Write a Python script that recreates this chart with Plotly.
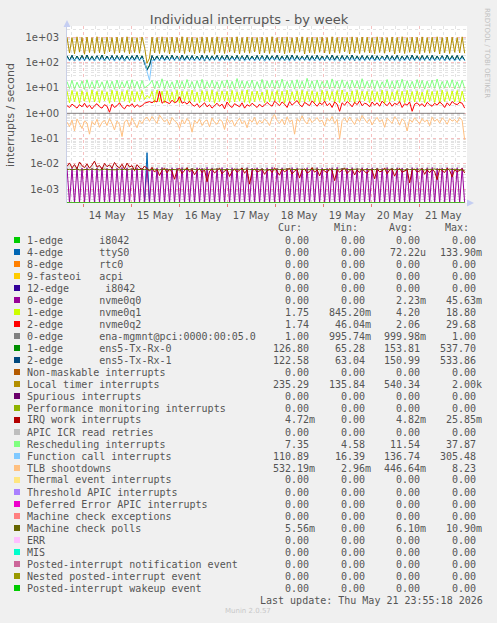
import numpy as np
import pandas as pd
import plotly.graph_objects as go

# ---------------- data ----------------
N = 160
START = "2026-05-13 16:00"
STEP = "75min"

local_timer = [
    1010, 240, 980, 225, 1040, 260, 995, 215, 1020, 250, 970, 235, 1050, 245, 1000, 220, 1030, 265, 985, 230,
    1015, 240, 990, 255, 1045, 225, 1005, 250, 975, 235, 1030, 420, 95, 150, 1010, 245, 990, 230, 1040, 255,
    1000, 220, 1025, 250, 980, 240, 1050, 230, 995, 260, 1015, 225, 970, 245, 1035, 235, 1005, 255, 990, 215,
    1040, 245, 985, 230, 1020, 260, 1000, 240, 1045, 225, 975, 250, 1030, 235, 1010, 265, 990, 220, 1025, 245,
    995, 230, 1050, 255, 980, 240, 1015, 225, 1035, 250, 970, 235, 1005, 260, 1040, 220, 985, 245, 1020, 230,
    1000, 255, 1030, 240, 975, 225, 1045, 250, 990, 235, 1015, 265, 1000, 220, 1035, 245, 980, 230, 1025, 255,
    1010, 240, 990, 225, 1040, 250, 1005, 235, 970, 260, 1030, 220, 995, 245, 1050, 230, 985, 255, 1020, 240,
    1000, 225, 1035, 250, 980, 235, 1015, 260, 1045, 220, 990, 245, 1025, 230, 1005, 255, 975, 240, 1040, 235,
]

ens5_rx0 = [
    188, 123, 192, 118, 183, 122, 193, 121, 197, 119, 181, 119, 185, 121, 199, 116, 180, 124, 189, 120,
    189, 120, 191, 118, 184, 123, 186, 123, 194, 121, 187, 95, 55, 80, 187, 124, 185, 120, 192, 121,
    184, 122, 196, 119, 183, 119, 195, 122, 188, 123, 188, 121, 182, 120, 193, 118, 191, 118, 186, 123,
    191, 120, 189, 121, 196, 122, 185, 119, 193, 119, 188, 122, 194, 123, 184, 121, 190, 120, 190, 118,
    189, 124, 187, 123, 193, 121, 186, 117, 193, 121, 195, 120, 189, 119, 183, 122, 191, 122, 185, 119,
    192, 120, 184, 121, 186, 124, 194, 123, 187, 118, 189, 123, 189, 121, 196, 120, 185, 119, 188, 122,
    188, 122, 190, 119, 185, 123, 184, 120, 193, 121, 184, 124, 191, 118, 186, 123, 187, 122, 195, 119,
    187, 120, 189, 121, 189, 117, 192, 121, 185, 122, 186, 119, 194, 124, 188, 120, 190, 122, 185, 123,
]

ens5_rx1 = [
    185, 120, 195, 115, 180, 125, 190, 118, 200, 122, 178, 116, 188, 124, 196, 119, 183, 121, 192, 117,
    186, 123, 194, 115, 181, 120, 189, 126, 197, 118, 184, 90, 50, 75, 190, 121, 182, 117, 195, 124,
    187, 119, 193, 122, 180, 116, 198, 125, 185, 120, 191, 118, 179, 123, 196, 115, 188, 121, 183, 126,
    194, 117, 186, 124, 199, 119, 182, 122, 190, 116, 185, 125, 197, 120, 181, 118, 193, 123, 187, 115,
    192, 121, 184, 126, 196, 118, 183, 120, 190, 124, 198, 117, 186, 122, 180, 125, 194, 119, 188, 116,
    195, 123, 181, 118, 189, 121, 197, 126, 184, 115, 192, 120, 186, 124, 199, 117, 182, 122, 191, 119,
    185, 125, 193, 116, 188, 120, 181, 123, 196, 118, 187, 121, 194, 115, 183, 126, 190, 119, 198, 122,
    184, 117, 192, 124, 186, 120, 195, 118, 182, 125, 189, 116, 197, 121, 185, 123, 193, 119, 188, 120,
]

function_call = [
    150, 118, 145, 122, 155, 115, 148, 125, 152, 120, 143, 117, 158, 123, 147, 119, 151, 126, 144, 116,
    156, 121, 149, 118, 153, 124, 146, 115, 157, 122, 150, 120, 45, 20, 125, 119, 148, 123, 154, 117,
    145, 125, 152, 118, 158, 121, 147, 116, 151, 124, 144, 120, 155, 117, 149, 126, 153, 119, 146, 122,
    157, 115, 150, 123, 143, 118, 154, 121, 148, 125, 156, 116, 145, 122, 152, 119, 147, 124, 158, 117,
    149, 120, 155, 126, 146, 118, 151, 123, 144, 115, 157, 121, 150, 119, 153, 124, 145, 117, 148, 122,
    154, 118, 147, 125, 156, 120, 143, 116, 152, 123, 149, 119, 158, 121, 146, 126, 151, 115, 155, 120,
    148, 124, 153, 117, 145, 122, 157, 119, 150, 125, 144, 118, 154, 121, 147, 116, 156, 123, 149, 120,
    152, 119, 146, 124, 155, 117, 150, 122, 143, 126, 157, 118, 148, 121, 153, 115, 145, 123, 151, 119,
]

rescheduling = [
    18, 9.5, 20, 9.0, 17, 10, 19, 8.8, 21, 9.6, 18, 9.2, 20, 10.2, 17.5, 9.0, 19.5, 9.8, 18.5, 8.9,
    20.5, 9.4, 17.8, 10.1, 19.2, 9.1, 21, 9.7, 18.2, 9.3, 19.8, 10, 12, 14, 20, 9.5, 18.7, 9.9, 23, 9.2,
    19, 10.3, 17.6, 9.0, 20.3, 9.6, 18.4, 9.4, 21.5, 10.1, 17.9, 9.2, 19.6, 9.8, 22, 9.1, 18.1, 10.2, 20.1, 9.5,
    17.7, 9.3, 19.4, 10.0, 20.8, 9.7, 18.3, 9.0, 23.5, 9.9, 19.1, 9.4, 18.6, 10.4, 20.6, 9.2, 17.9, 9.6, 21.8, 9.1,
    18.8, 10.1, 20.2, 9.3, 19.3, 9.8, 22.4, 9.5, 18.0, 10.2, 19.9, 9.0, 21.2, 9.7, 18.5, 9.4, 24, 10.0, 19.0, 9.2,
    20.7, 9.6, 18.2, 10.3, 19.7, 9.1, 22.8, 9.8, 18.9, 9.4, 21.0, 10.1, 17.8, 9.3, 20.4, 9.9, 19.2, 9.0, 23.2, 9.6,
    18.4, 10.0, 20.9, 9.2, 19.5, 9.7, 17.6, 10.4, 21.6, 9.5, 18.7, 9.1, 20.0, 9.8, 22.2, 9.3, 19.1, 10.2, 18.3, 9.4,
    21.4, 9.9, 19.8, 9.0, 18.6, 10.1, 20.5, 9.6, 22.6, 9.3, 18.1, 9.8, 19.4, 10.3, 21.1, 9.2, 17.7, 9.7, 20.3, 9.5,
]

nvme0q1 = [
    7.5, 2.6, 8.0, 2.9, 7.2, 2.5, 7.8, 3.0, 7.0, 2.7, 8.2, 2.8, 7.4, 2.6, 7.9, 3.1, 7.1, 2.5, 8.1, 2.9,
    7.6, 2.7, 7.3, 3.0, 8.0, 2.6, 7.7, 2.8, 7.2, 3.2, 7.9, 3.5, 5.0, 4.0, 7.4, 2.7, 8.3, 2.9, 7.5, 2.6,
    7.8, 3.0, 7.1, 2.8, 8.0, 2.5, 7.6, 3.1, 7.3, 2.7, 8.2, 2.9, 7.0, 2.6, 7.9, 3.0, 7.4, 2.8, 8.1, 2.5,
    7.2, 2.9, 7.7, 3.1, 7.5, 2.6, 8.0, 2.8, 7.1, 3.0, 7.8, 2.7, 8.3, 2.5, 7.4, 2.9, 7.6, 3.2, 7.0, 2.6,
    8.1, 2.8, 7.3, 3.0, 7.9, 2.7, 7.5, 2.5, 8.2, 2.9, 7.2, 3.1, 7.7, 2.6, 8.0, 2.8, 7.4, 3.0, 7.8, 2.7,
    7.1, 2.5, 8.1, 2.9, 7.6, 3.2, 7.3, 2.7, 7.9, 2.6, 8.3, 3.0, 7.0, 2.8, 7.7, 2.5, 8.0, 2.9, 7.5, 3.1,
    7.4, 2.6, 7.8, 3.0, 7.2, 2.8, 8.2, 2.5, 7.6, 2.9, 7.1, 3.1, 7.9, 2.7, 7.5, 2.6, 8.1, 3.0, 7.3, 2.8,
    7.7, 2.9, 7.0, 2.6, 8.0, 3.0, 7.4, 2.7, 7.8, 2.5, 8.2, 2.9, 7.2, 3.1, 7.6, 2.8, 7.9, 2.6, 7.5, 3.0,
]

nvme0q2 = [
    2.0, 1.7, 2.3, 1.9, 1.6, 2.2, 1.8, 2.5, 1.7, 2.1, 1.5, 2.0, 2.4, 1.8, 1.6, 2.2, 1.9, 1.1, 2.3, 1.7,
    2.0, 2.6, 1.8, 1.5, 2.1, 1.9, 2.4, 1.7, 2.2, 1.8, 2.0, 2.5, 2.7, 2.9, 2.6, 3.1, 2.8, 7.5, 2.5, 3.0,
    2.7, 2.4, 3.3, 2.6, 2.9, 4.5, 2.5, 2.8, 2.3, 3.0, 2.2, 1.9, 2.4, 1.7, 2.1, 2.6, 1.8, 2.2, 1.6, 2.0,
    2.5, 1.9, 2.3, 1.5, 2.8, 2.0, 1.7, 2.4, 2.1, 1.8, 2.6, 1.6, 2.2, 1.9, 2.5, 2.0, 1.7, 2.3, 1.8, 2.1,
    2.7, 2.2, 1.9, 3.0, 2.4, 2.0, 2.8, 2.3, 1.7, 2.9, 2.1, 2.6, 3.2, 2.2, 1.8, 2.7, 2.4, 2.0, 3.1, 2.5,
    1.9, 2.6, 2.2, 3.0, 2.0, 2.5, 1.7, 2.8, 2.3, 1.2, 2.6, 2.1, 2.9, 2.4, 1.8, 2.7, 2.2, 3.1, 2.0, 2.5,
    2.3, 1.8, 2.8, 2.1, 2.6, 1.9, 3.0, 2.4, 2.0, 2.7, 1.9, 2.5, 2.2, 2.9, 1.7, 2.4, 2.1, 2.8, 1.2, 2.3,
    2.6, 2.0, 2.4, 1.8, 2.7, 2.2, 1.9, 2.5, 2.1, 2.8, 2.3, 1.7, 2.6, 2.0, 2.9, 2.4, 2.2, 2.7, 2.5, 1.6,
]

tlb_shootdowns = [
    0.45, 0.30, 0.55, 0.20, 0.60, 0.38, 0.25, 0.50, 0.42, 0.15, 0.48, 0.35, 0.58, 0.28, 0.44, 0.52, 0.33, 0.62, 0.40, 0.22,
    0.50, 0.36, 0.12, 0.46, 0.55, 0.30, 0.65, 0.41, 0.27, 0.53, 0.39, 0.60, 0.70, 0.48, 0.75, 0.55, 0.40, 0.85, 0.62, 0.45,
    0.58, 0.35, 0.68, 0.50, 0.42, 0.25, 0.56, 0.38, 0.63, 0.46, 0.18, 0.52, 0.40, 0.60, 0.33, 0.48, 0.55, 0.29, 0.66, 0.44,
    0.37, 0.57, 0.49, 0.23, 0.61, 0.43, 0.54, 0.31, 0.47, 0.64, 0.39, 0.51, 0.27, 0.58, 0.45, 0.70, 0.36, 0.53, 0.41, 0.60,
    0.48, 0.33, 0.66, 0.90, 0.52, 0.40, 0.59, 0.35, 0.72, 0.44, 0.55, 0.15, 0.62, 0.47, 0.80, 0.50, 0.38, 0.65, 0.43, 0.57,
    0.68, 0.46, 0.54, 0.31, 0.63, 0.49, 0.75, 0.40, 0.58, 0.10, 0.52, 0.66, 0.44, 0.71, 0.50, 0.36, 0.62, 0.47, 0.82, 0.55,
    0.42, 0.60, 0.35, 0.53, 0.69, 0.45, 0.57, 0.28, 0.64, 0.50, 0.40, 0.73, 0.56, 0.34, 0.61, 0.47, 0.20, 0.58, 0.44, 0.67,
    0.51, 0.38, 0.63, 0.46, 0.55, 0.32, 0.70, 0.48, 0.59, 0.41, 0.66, 0.53, 0.37, 0.62, 0.49, 0.57, 0.43, 0.68, 0.52, 0.09,
]

# milli-interrupts per second
irq_work_m = [
    8.0, 11, 7.0, 9.5, 6.5, 12, 8.5, 7.2, 10, 6.8, 9.0, 13, 7.5, 8.8, 6.2, 10.5, 7.8, 9.2, 6.9, 11.5,
    8.2, 7.0, 9.8, 6.4, 10.8, 7.6, 8.6, 5.5, 9.4, 7.1, 6.0, 8.3, 6.6, 5.2, 7.4, 4.8, 6.1, 3.5, 5.6, 6.8,
    4.5, 6.2, 5.0, 2.5, 5.8, 6.9, 4.2, 5.5, 7.2, 4.9, 6.0, 3.8, 5.4, 6.6, 4.6, 5.9, 2.0, 5.2, 6.3, 4.4,
    5.7, 6.8, 4.1, 5.3, 6.1, 3.2, 5.0, 6.4, 4.7, 5.6, 7.0, 4.3, 5.9, 1.6, 5.1, 6.5, 4.8, 5.4, 6.2, 3.9,
    5.5, 6.0, 4.6, 7.1, 5.2, 3.6, 6.3, 4.9, 5.8, 6.7, 4.0, 5.3, 6.1, 2.8, 5.6, 6.4, 4.4, 5.0, 7.3, 4.7,
    5.9, 3.4, 6.2, 5.1, 4.5, 6.6, 5.4, 2.2, 6.0, 4.8, 5.7, 6.9, 4.2, 5.5, 6.3, 3.7, 5.8, 4.6, 6.5, 5.0,
    4.3, 6.1, 5.6, 2.6, 6.4, 4.9, 5.3, 7.0, 4.1, 5.8, 6.2, 3.3, 5.5, 6.7, 4.7, 5.2, 6.0, 1.8, 5.7, 6.3,
    4.8, 5.4, 6.6, 3.9, 5.9, 4.5, 6.1, 5.0, 2.4, 6.4, 5.2, 4.6, 6.8, 5.6, 3.1, 6.0, 4.9, 5.7, 6.5, 4.4,
]

mc_polls_m = [
    6.0, 6.2, 5.9, 6.1, 6.3, 5.8, 6.0, 6.2, 6.1, 5.9, 6.4, 6.0, 6.2, 5.8, 6.1, 6.3, 6.0, 5.9, 6.2, 6.1,
    5.9, 6.3, 6.0, 6.2, 5.8, 6.1, 6.4, 6.0, 5.9, 6.2, 6.1, 6.0, 6.3, 5.9, 6.1, 6.2, 6.0, 5.8, 6.3, 6.1,
    6.2, 5.9, 6.1, 6.0, 6.3, 5.8, 6.2, 6.1, 5.9, 6.0, 6.4, 6.1, 5.8, 6.2, 6.0, 6.3, 5.9, 6.1, 6.2, 6.0,
    6.1, 6.3, 5.9, 6.0, 6.2, 6.1, 5.8, 6.3, 6.0, 6.2, 5.9, 6.1, 6.4, 6.0, 5.9, 6.2, 6.1, 6.0, 6.3, 5.8,
    6.0, 6.2, 6.1, 5.9, 6.3, 6.0, 6.1, 5.8, 6.2, 6.4, 6.0, 5.9, 6.1, 6.3, 6.0, 6.2, 5.8, 6.1, 6.0, 6.2,
    6.3, 5.9, 6.0, 6.2, 6.1, 5.8, 6.3, 6.0, 6.1, 5.9, 6.2, 6.4, 6.0, 6.1, 5.9, 6.2, 6.0, 6.3, 5.8, 6.1,
    6.1, 6.0, 6.2, 5.9, 6.3, 6.1, 5.8, 6.2, 6.0, 6.1, 6.4, 5.9, 6.2, 6.0, 6.1, 5.8, 6.3, 6.0, 6.2, 5.9,
    6.0, 6.3, 6.1, 5.8, 6.2, 6.0, 6.1, 6.4, 5.9, 6.2, 6.0, 6.1, 5.9, 6.3, 6.0, 6.2, 6.1, 5.8, 6.0, 5.6,
]

nvme0q0_m = [
    7.0, 0, 6.8, 0, 7.2, 0, 6.9, 0, 7.1, 0, 6.7, 0, 7.0, 0, 7.3, 0, 6.8, 0, 7.1, 0,
    6.9, 0, 7.2, 0, 7.0, 0, 6.6, 0, 7.1, 0, 6.9, 0, 7.2, 0, 6.8, 0, 7.0, 0, 7.3, 0,
    6.7, 0, 7.1, 0, 6.9, 0, 7.2, 0, 7.0, 0, 6.8, 0, 7.1, 0, 6.9, 0, 7.3, 0, 7.0, 0,
    6.8, 0, 7.2, 0, 6.9, 0, 7.1, 0, 6.7, 0, 7.0, 0, 7.2, 0, 6.9, 0, 7.1, 0, 6.8, 0,
    7.0, 0, 7.3, 0, 6.8, 0, 7.1, 0, 6.9, 0, 7.2, 0, 7.0, 0, 6.7, 0, 7.1, 0, 6.9, 0,
    7.2, 0, 7.0, 0, 6.8, 0, 7.1, 0, 7.3, 0, 6.9, 0, 7.0, 0, 7.2, 0, 6.8, 0, 7.1, 0,
    6.9, 0, 7.1, 0, 7.0, 0, 6.7, 0, 7.2, 0, 6.9, 0, 7.1, 0, 7.0, 0, 6.8, 0, 7.2, 0,
    7.0, 0, 6.9, 0, 7.1, 0, 7.3, 0, 6.8, 0, 7.0, 0, 7.2, 0, 6.9, 0, 7.1, 0, 7.0, 0,
]

ttys0_spike_index = 32
ttys0_spike_value = 0.028
ena_value = 1.0

# legend table
legend_labels = [
    "1-edge      i8042", "4-edge      ttyS0", "8-edge      rtc0", "9-fasteoi   acpi",
    "12-edge      i8042", "0-edge      nvme0q0", "1-edge      nvme0q1", "2-edge      nvme0q2",
    "0-edge      ena-mgmnt@pci:0000:00:05.0", "1-edge      ens5-Tx-Rx-0", "2-edge      ens5-Tx-Rx-1",
    "Non-maskable interrupts", "Local timer interrupts", "Spurious interrupts",
    "Performance monitoring interrupts", "IRQ work interrupts", "APIC ICR read retries",
    "Rescheduling interrupts", "Function call interrupts", "TLB shootdowns",
    "Thermal event interrupts", "Threshold APIC interrupts", "Deferred Error APIC interrupts",
    "Machine check exceptions", "Machine check polls", "ERR", "MIS",
    "Posted-interrupt notification event", "Nested posted-interrupt event",
    "Posted-interrupt wakeup event",
]
colors = [
    "#00CC00", "#0066B3", "#FF8000", "#FFCC00", "#330099", "#990099", "#CCFF00", "#FF0000",
    "#808080", "#008F00", "#00487D", "#B35A00", "#B38F00", "#6B006B", "#8FB300", "#B30000",
    "#BEBEBE", "#80FF80", "#80C9FF", "#FFC080", "#FFE680", "#AA80FF", "#EE00CC", "#FF8080",
    "#666600", "#FFBFFF", "#00FFCC", "#CC6699", "#999900", "#00CC00",
]
cur_vals = ["0.00", "0.00", "0.00", "0.00", "0.00", "0.00", "1.75", "1.74", "1.00", "126.80",
            "122.58", "0.00", "235.29", "0.00", "0.00", "4.72m", "0.00", "7.35", "110.89", "532.19m",
            "0.00", "0.00", "0.00", "0.00", "5.56m", "0.00", "0.00", "0.00", "0.00", "0.00"]
min_vals = ["0.00", "0.00", "0.00", "0.00", "0.00", "0.00", "845.20m", "46.04m", "995.74m", "65.28",
            "63.04", "0.00", "135.84", "0.00", "0.00", "0.00", "0.00", "4.58", "16.39", "2.96m",
            "0.00", "0.00", "0.00", "0.00", "0.00", "0.00", "0.00", "0.00", "0.00", "0.00"]
avg_vals = ["0.00", "72.22u", "0.00", "0.00", "0.00", "2.23m", "4.20", "2.06", "999.98m", "153.81",
            "150.99", "0.00", "540.34", "0.00", "0.00", "4.82m", "0.00", "11.54", "136.74", "446.64m",
            "0.00", "0.00", "0.00", "0.00", "6.10m", "0.00", "0.00", "0.00", "0.00", "0.00"]
max_vals = ["0.00", "133.90m", "0.00", "0.00", "0.00", "45.63m", "18.80", "29.68", "1.00", "537.70",
            "533.86", "0.00", "2.00k", "0.00", "0.00", "25.85m", "0.00", "37.87", "305.48", "8.23",
            "0.00", "0.00", "0.00", "0.00", "10.90m", "0.00", "0.00", "0.00", "0.00", "0.00"]

y_tick_vals = [1e-3, 1e-2, 1e-1, 1e0, 1e1, 1e2, 1e3]
y_tick_text = ["1e-03", "1e-02", "1e-01", "1e+00", "1e+01", "1e+02", "1e+03"]

TITLE = "Individual interrupts - by week"
Y_TITLE = "interrupts / second"
LAST_UPDATE = "Last update: Thu May 21 23:55:18 2026"

# ---------------- assemble series ----------------
times = pd.date_range(START, periods=N, freq=STEP)
ttys0 = np.zeros(N)
ttys0[ttys0_spike_index] = ttys0_spike_value
series = {i: np.zeros(N) for i in range(len(legend_labels))}
series[1] = ttys0
series[5] = np.array(nvme0q0_m) * 1e-3
series[6] = np.array(nvme0q1)
series[7] = np.array(nvme0q2)
series[8] = np.full(N, ena_value)
series[9] = np.array(ens5_rx0, dtype=float)
series[10] = np.array(ens5_rx1, dtype=float)
series[12] = np.array(local_timer, dtype=float)
series[15] = np.array(irq_work_m) * 1e-3
series[17] = np.array(rescheduling)
series[18] = np.array(function_call, dtype=float)
series[19] = np.array(tlb_shootdowns)
series[24] = np.array(mc_polls_m) * 1e-3

Y_RANGE = [-3.54, 3.446]
floor = 10 ** Y_RANGE[0]   # rrdtool draws zero at the bottom of a log graph

fig = go.Figure()
for i, lab in enumerate(legend_labels):
    v = series[i]
    v = np.where(v > 0, v, floor)
    fig.add_trace(go.Scatter(x=times, y=v, mode="lines", name=lab,
                             line=dict(color=colors[i], width=1), showlegend=False,
                             hoverinfo="skip"))

# ---------------- layout ----------------
W, H = 497, 623
L, R, T, B = 67, 30, 26, 420
PW, PH = W - L - R, H - T - B


def px(x):
    return (x - L) / PW


def py(y):
    return (H - B - y) / PH


TXT = "#555555"
MONO = "DejaVu Sans Mono"
SANS = "DejaVu Sans"

minor_y = [k * 10.0 ** e for e in range(-4, 4) for k in range(2, 10)]
MAJOR_GRID = "rgba(235,130,130,0.5)"
MINOR_GRID = "rgba(175,175,175,0.35)"

fig.update_layout(
    width=W, height=H,
    margin=dict(l=L, r=R, t=T, b=B, pad=0),
    paper_bgcolor="#F0F0F0", plot_bgcolor="#FFFFFF",
    title=dict(text=TITLE, x=249 / W, xanchor="center", y=1 - 19 / H, yanchor="middle",
               font=dict(family=SANS, size=13, color=TXT)),
    xaxis=dict(
        type="date",
        range=["2026-05-13 16:00", "2026-05-21 23:55"],
        tick0="2026-05-14", dtick=86400000, ticklabelmode="period", tickformat="%d %b",
        showgrid=True, gridcolor=MAJOR_GRID, griddash="dot", gridwidth=1,
        ticks="outside", ticklen=3, tickcolor="rgba(230,90,90,0.8)",
        tickfont=dict(family=SANS, size=10, color=TXT),
        minor=dict(dtick=21600000, showgrid=True, gridcolor=MINOR_GRID,
                   griddash="dot", ticks=""),
        showline=False, zeroline=False, fixedrange=True,
    ),
    yaxis=dict(
        type="log", range=Y_RANGE,
        tickmode="array", tickvals=y_tick_vals, ticktext=y_tick_text,
        showgrid=True, gridcolor=MAJOR_GRID, griddash="dot", gridwidth=1,
        ticks="outside", ticklen=5, tickcolor="rgba(0,0,0,0)",
        tickfont=dict(family=SANS, size=10, color=TXT),
        minor=dict(tickmode="array", tickvals=minor_y, showgrid=True,
                   gridcolor=MINOR_GRID, griddash="dot", ticks=""),
        showline=True, linecolor="#C9CFE6", linewidth=1, zeroline=False, fixedrange=True,
    ),
)

ann = []
shapes = []

ann.append(dict(text=Y_TITLE, xref="paper", yref="paper", x=px(11), y=py(115),
                textangle=-90, showarrow=False, xanchor="center", yanchor="middle",
                font=dict(family=SANS, size=11, color=TXT)))
ann.append(dict(text="RRDTOOL / TOBI OETIKER", xref="paper", yref="paper", x=px(487), y=py(53),
                textangle=90, showarrow=False, xanchor="center", yanchor="middle",
                font=dict(family=SANS, size=7, color="#C0C0C0")))

# axis arrows
arrow_col = "#C5CEF2"
shapes.append(dict(type="path", xref="paper", yref="paper", line=dict(width=0), fillcolor=arrow_col,
                   path=f"M {px(67)},{py(20)} L {px(63.5)},{py(27)} L {px(70.5)},{py(27)} Z"))
shapes.append(dict(type="path", xref="paper", yref="paper", line=dict(width=0), fillcolor=arrow_col,
                   path=f"M {px(474)},{py(203)} L {px(467)},{py(199.5)} L {px(467)},{py(206.5)} Z"))

# legend table header
for hdr, xr in zip(["Cur:", "Min:", "Avg:", "Max:"], [304, 360, 415, 471]):
    ann.append(dict(text=hdr, xref="paper", yref="paper", x=px(xr), y=py(227),
                    xanchor="right", yanchor="middle", showarrow=False,
                    font=dict(family=MONO, size=10, color=TXT)))

NB = "\u00a0"


def fmt(s):
    return s if s[-1].isalpha() else s + NB


for k, lab in enumerate(legend_labels):
    yy = 240 + 12 * k
    shapes.append(dict(type="rect", xref="paper", yref="paper",
                       x0=px(14), x1=px(20), y0=py(yy + 3), y1=py(yy - 3),
                       fillcolor=colors[k], line=dict(width=0)))
    ann.append(dict(text=lab.replace(" ", NB), xref="paper", yref="paper", x=px(25), y=py(yy),
                    xanchor="left", yanchor="middle", showarrow=False,
                    font=dict(family=MONO, size=10, color=TXT)))
    for vals, xr in zip([cur_vals, min_vals, avg_vals, max_vals], [317, 373, 428, 484]):
        ann.append(dict(text=fmt(vals[k]), xref="paper", yref="paper", x=px(xr), y=py(yy),
                        xanchor="right", yanchor="middle", showarrow=False,
                        font=dict(family=MONO, size=10, color=TXT)))

ann.append(dict(text=LAST_UPDATE.replace(" ", NB), xref="paper", yref="paper", x=px(485), y=py(600),
                xanchor="right", yanchor="middle", showarrow=False,
                font=dict(family=MONO, size=10, color=TXT)))
ann.append(dict(text="Munin 2.0.57", xref="paper", yref="paper", x=px(248), y=py(611),
                xanchor="center", yanchor="middle", showarrow=False,
                font=dict(family=SANS, size=7, color="#C8C8C8")))

fig.update_layout(annotations=ann, shapes=shapes)
fig.write_html("out.html", config={"displayModeBar": False, "staticPlot": True},
               post_script="document.body.style.margin='0px';document.body.style.overflow='hidden';")
